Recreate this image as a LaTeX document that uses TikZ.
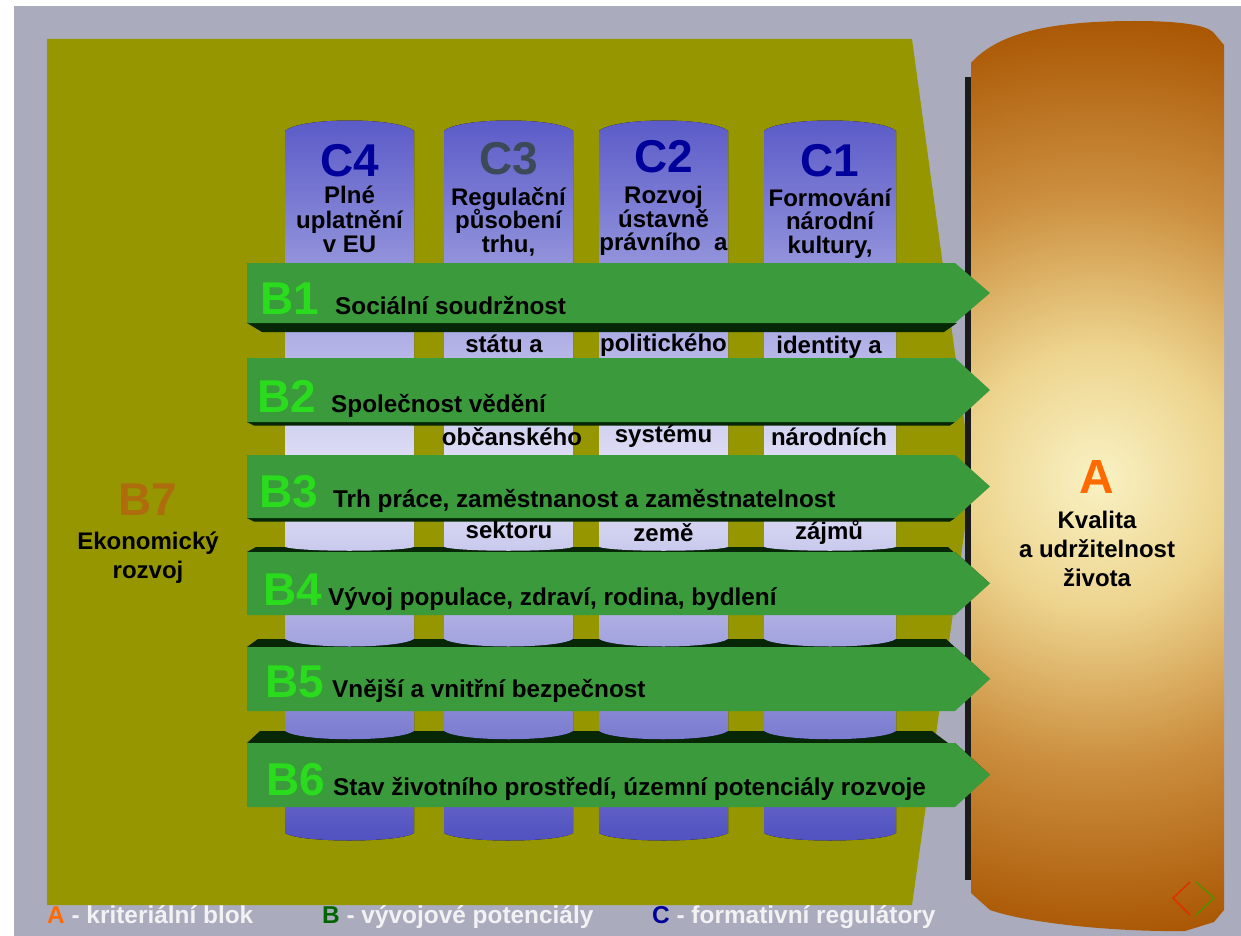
\documentclass[tikz,border=0pt]{standalone}
\usepackage{fontspec}
\setmainfont{Liberation Sans}
\definecolor{bggray}{HTML}{ABABBE}
\definecolor{panel}{HTML}{969600}
\definecolor{band}{HTML}{3A9A3C}
\definecolor{bandface}{HTML}{062606}
\definecolor{blabel}{HTML}{2ADB1E}
\definecolor{cblue}{HTML}{00009A}
\definecolor{cslate}{HTML}{3A4A58}
\definecolor{bseven}{HTML}{AE6C0E}
\definecolor{aorange}{HTML}{FF6A00}
\definecolor{legwhite}{HTML}{F2F2F4}
\definecolor{legB}{HTML}{006400}
\definecolor{colTop}{HTML}{5A5AC8}
\definecolor{colMid}{HTML}{E6E6F8}
\definecolor{colBot}{HTML}{5050C0}
\definecolor{aCa}{HTML}{F9F2C4}
\definecolor{aCb}{HTML}{EDD48E}
\definecolor{aCc}{HTML}{CC9040}
\definecolor{aCd}{HTML}{A85400}
\definecolor{shadowk}{HTML}{1A1A1A}
\definecolor{iconred}{HTML}{E03000}
\definecolor{icongreen}{HTML}{5A8A00}
\pgfdeclareradialshading{aglow}{\pgfpoint{0bp}{0bp}}{color(0bp)=(aCa); color(7bp)=(aCb); color(15bp)=(aCc); color(25bp)=(aCd); color(50bp)=(aCd)}
\newcommand\txtB{\fontsize{24}{24}\selectfont\bfseries}
\newcommand\txtBt{\fontsize{24.3}{24.3}\selectfont\bfseries}
\newcommand\txtLeg{\fontsize{24.4}{24.4}\selectfont\bfseries}
\newcommand\txtBig{\fontsize{46}{46}\selectfont\bfseries}
\newcommand\txtA{\fontsize{48}{48}\selectfont\bfseries}
\newcommand\colshape[2]{(#1,131) .. controls (#1+15,117) and (#2-15,117) .. (#2,131) -- (#2,833) .. controls (#2-15,843) and (#1+15,843) .. (#1,833) -- cycle}
\newcommand\bandshape[2]{(247,#1) -- (955,#1) -- (990,{(#1+#2)/2}) -- (955,#2) -- (247,#2) -- cycle}
\newcommand\cylA{(971,63) .. controls (1000,30) and (1060,21) .. (1135,21) .. controls (1180,21) and (1205,25) .. (1213,32) -- (1224,45) -- (1224,910) -- (1214,922) -- (1185,931) .. controls (1120,932) and (1030,924) .. (990,910) -- (971,893) -- cycle}
\newcommand\lens[4]{\begin{scope}\clip (#1,#3-1) -- (#2,#3-1) -- (#2,#3) .. controls (#2-15,#3+#4) and (#1+15,#3+#4) .. (#1,#3) -- cycle; \fill[colfill] \colshape{#1}{#2};\end{scope}}
\begin{document}
\begin{tikzpicture}[x=1pt,y=-1pt,
  colfill/.style={top color=colTop, bottom color=colBot, middle color=colMid},
  txt/.style={inner sep=0pt, anchor=base, font=\txtB, text=black},
  clab/.style={inner sep=0pt, anchor=base, font=\txtBig},
  blab/.style={inner sep=0pt, anchor=base west, font=\txtBig, text=blabel},
  btxt/.style={inner sep=0pt, anchor=base west, font=\txtBt, text=black},
  leg/.style={inner sep=0pt, anchor=base west, font=\txtLeg, text=legwhite}]
\useasboundingbox (0,0) rectangle (1241,936);
\fill[white] (0,0) rectangle (1241,936);
\fill[bggray] (14,6) rectangle (1241,936);
% B7 panel
\fill[panel] (47,39) -- (912,39) -- (972,478) -- (912,905) -- (47,905) -- cycle;
% A cylinder
\fill[shadowk] (965,77) rectangle (971,880);
\begin{scope}
  \clip \cylA;
  \shade[shading=aglow] (1098,478) circle[radius=470pt];
\end{scope}
% C columns
\foreach \a/\b in {285/414,444/573,599/728,764/896}{
  \fill[colfill] \colshape{\a}{\b};
}
% B bands
\fill[bandface] (247,323) -- (262,332) -- (944,332) -- (957,323) -- cycle;
\fill[band] \bandshape{263}{323};
\fill[bandface] (247,422) -- (254,425.5) -- (950,425.5) -- (955,422) -- cycle;
\fill[band] \bandshape{358}{422};
\fill[bandface] (247,518) -- (254,521.5) -- (950,521.5) -- (955,518) -- cycle;
\fill[band] \bandshape{455}{518};
\fill[bandface] (247,552) -- (256,547) -- (948,547) -- (984,580) -- (990,583.5) -- (955,552) -- cycle;
\fill[band] \bandshape{552}{615};
\fill[bandface] (247,647) -- (258,639) -- (946,639) -- (982,672) -- (990,679) -- (955,647) -- cycle;
\fill[band] \bandshape{647}{711};
\fill[bandface] (247,743) -- (260,731) -- (932,731) -- (984,770) -- (990,775) -- (955,743) -- cycle;
\fill[band] \bandshape{743}{807};
% column arcs over the band faces
\foreach \a/\b in {285/414,444/573,599/728,764/896}{
  \lens{\a}{\b}{547}{5}
  \lens{\a}{\b}{639}{10}
  \lens{\a}{\b}{731}{11}
}
% C labels
\node[clab, text=cblue] (c4) at (349.5,177) {C4};
\node[clab, text=cslate] (c3) at (508.5,175) {C3};
\node[clab, text=cblue] (c2) at (663.5,173) {C2};
\node[clab, text=cblue] (c1) at (830,176) {C1};
% column texts
\node[txt] (c4a) at (349.5,204) {Plné};
\node[txt] (c4b) at (349.5,228) {uplatnění};
\node[txt] (c4c) at (349.5,252) {v EU};
\node[txt] (c3a) at (508.5,205) {Regulační};
\node[txt] (c3b) at (508.5,228) {působení};
\node[txt] (c3c) at (508.5,252) {trhu,};
\node[txt] (c2a) at (663.5,203) {Rozvoj};
\node[txt] (c2b) at (663.5,227) {ústavně};
\node[txt] (c2c) at (663.5,250) {právního~ a};
\node[txt] (c1a) at (830,207) {Formování};
\node[txt] (c1b) at (830,229) {národní};
\node[txt] (c1c) at (830,253) {kultury,};
\node[txt] (c3d) at (504,352) {státu a};
\node[txt] (c2d) at (663.5,351) {politického};
\node[txt] (c1d) at (829,353) {identity a};
\node[txt] (c3e) at (512,445) {občanského};
\node[txt] (c2e) at (663.5,442) {systému};
\node[txt] (c1e) at (829,445) {národních};
\node[txt] (c3f) at (509,538) {sektoru};
\node[txt] (c2f) at (663.5,541) {země};
\node[txt] (c1f) at (829,539) {zájmů};
% B labels and texts
\node[blab] (b1) at (260,314) {B1};
\node[btxt] (b1t) at (335,314) {Sociální soudržnost};
\node[blab] (b2) at (257,412) {B2};
\node[btxt] (b2t) at (331,412) {Společnost vědění};
\node[blab] (b3) at (259,507) {B3};
\node[btxt] (b3t) at (333,507) {Trh práce, zaměstnanost a zaměstnatelnost};
\node[blab] (b4) at (263,605) {B4};
\node[btxt] (b4t) at (328,605) {Vývoj populace, zdraví, rodina, bydlení};
\node[blab] (b5) at (265,697) {B5};
\node[btxt] (b5t) at (332,697) {Vnější a vnitřní bezpečnost};
\node[blab] (b6) at (266,795) {B6};
\node[btxt] (b6t) at (333,795) {Stav životního prostředí, územní potenciály rozvoje};
% B7
\node[clab, text=bseven] (b7) at (148,515) {B7};
\node[txt] (b7a) at (148,549) {Ekonomický};
\node[txt] (b7b) at (148,578) {rozvoj};
% A
\node[inner sep=0pt, anchor=base, font=\txtA, text=aorange] (a) at (1097,493) {A};
\node[txt] (aa) at (1097,528) {Kvalita};
\node[txt] (ab) at (1097,557) {a udržitelnost};
\node[txt] (ac) at (1097,586) {života};
% legend
\node[leg] (la) at (47,923) {{\color{aorange}A} - kriteriální blok};
\node[leg] (lb) at (322,923) {{\color{legB}B} - vývojové potenciály};
\node[leg] (lc) at (652,923) {{\color{cblue}C} - formativní regulátory};
% navigation icon
\coordinate (i1) at (1190,882);
\coordinate (i2) at (1173,898);
\coordinate (i3) at (1190,915);
\coordinate (i4) at (1196,882);
\coordinate (i5) at (1214,898);
\coordinate (i6) at (1196,915);
\draw[iconred, line width=1.5pt] (i1) -- (i2) -- (i3);
\draw[icongreen, line width=1.5pt] (i4) -- (i5) -- (i6);
\end{tikzpicture}
\end{document}
